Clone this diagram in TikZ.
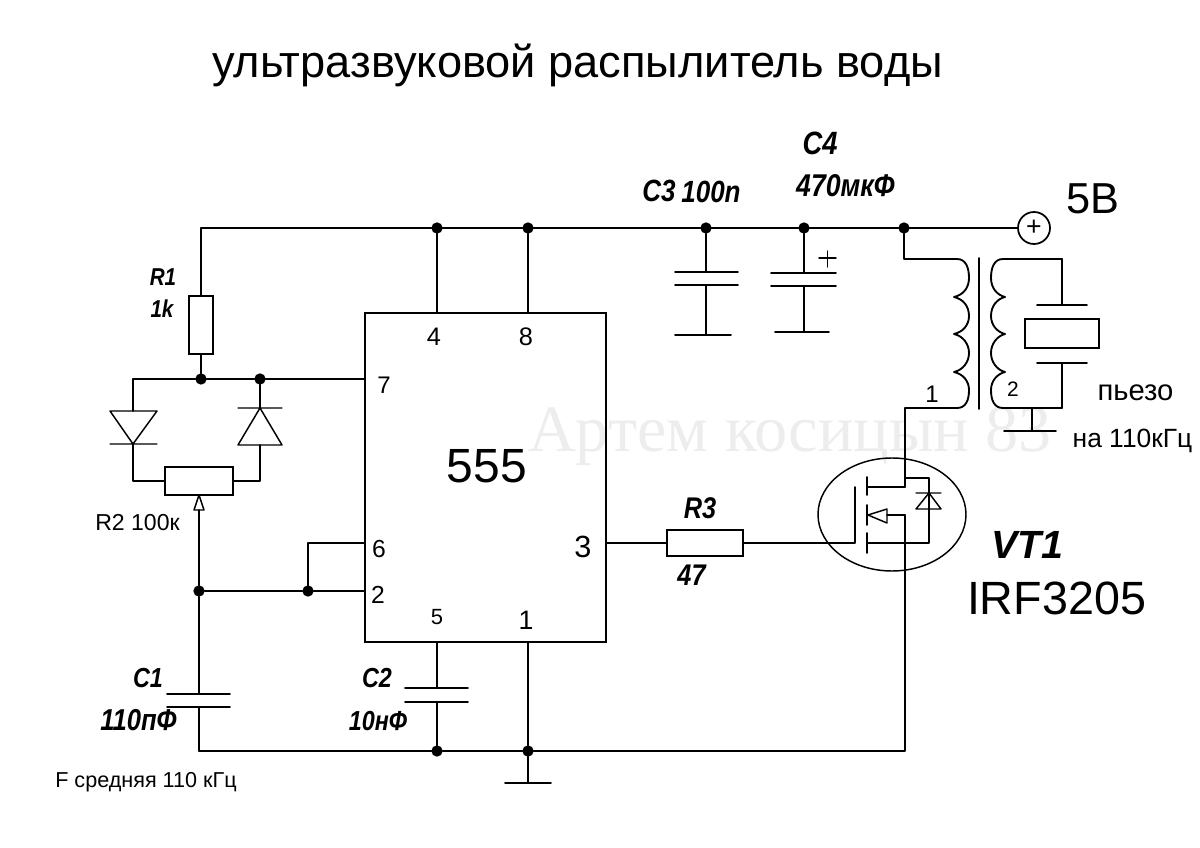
\documentclass[tikz,border=0pt]{standalone}
\usepackage{fontspec}
\setmainfont{Liberation Sans}
\newfontfamily\wmfont{Liberation Serif}
\newcommand{\tallt}[1]{\scalebox{1}[1.18]{#1}}
\tikzset{
  wire/.style={draw=black,line width=1.4pt,line cap=round,line join=round},
  thin wire/.style={draw=black,line width=1.1pt,line cap=round,line join=round},
  box/.style={draw=black,line width=1.5pt,rectangle,inner sep=0pt,outer sep=0pt},
  dot/.style={circle,fill=black,draw=none,minimum size=8.5pt,inner sep=0pt,outer sep=0pt},
  lab/.style={inner sep=0pt,outer sep=0pt,text=black,font=\fontsize{#1}{#1}\selectfont},
  blab/.style={inner sep=0pt,outer sep=0pt,text=black,font=\fontsize{#1}{#1}\selectfont\bfseries\itshape},
}
\begin{document}
\begin{tikzpicture}[x=0.75pt,y=-0.75pt]
\useasboundingbox (0,0) rectangle (1200,848);
\node[inner sep=0pt,text=black!7,font=\fontsize{49.7}{50}\selectfont\wmfont] (wm) at (790,437) {Артем косицын 83};
\node[lab=33.9] (title) at (577.5,65) {ультразвуковой распылитель воды};
% main parts
\node[box,minimum width=180.75pt,minimum height=246.75pt] (ic) at (485.5,477.5) {};
\node[box,minimum width=18pt,minimum height=43.5pt] (r1) at (201,325) {};
\node[box,minimum width=51pt,minimum height=21pt] (r2) at (199,481) {};
\node[box,minimum width=57pt,minimum height=19.5pt] (r3) at (705,543) {};
\node[box,minimum width=55.5pt,minimum height=21.75pt] (piezo) at (1062,333.5) {};
\node[box,circle,minimum size=24pt,line width=1.3pt,font=\fontsize{20}{20}\selectfont] (plus) at (1034,228) {+};
% junctions
\node[dot] (j437) at (437,228) {};
\node[dot] (j528) at (528,228) {};
\node[dot] (j706) at (706,228) {};
\node[dot] (j804) at (804,228) {};
\node[dot] (j904) at (904,228) {};
\node[dot] (j201) at (201,379) {};
\node[dot] (j260) at (260,379) {};
\node[dot] (j199) at (199,591) {};
\node[dot] (j308) at (308,591) {};
\node[dot] (b437) at (437,751) {};
\node[dot] (b528) at (528,751) {};
% coordinates
\coordinate (railL) at (201,228);
\coordinate (p4) at (437,313);
\coordinate (p8) at (528,313);
\coordinate (p7) at (365,379);
\coordinate (lft) at (133,379);
\coordinate (p6) at (365,543);
\coordinate (p2) at (365,591);
\coordinate (p5) at (437,642);
\coordinate (p1) at (528,642);
\coordinate (p3) at (606,543);
\coordinate (c3t) at (706,272);
\coordinate (c3b) at (706,285);
\coordinate (c3g) at (706,335);
\coordinate (c4t) at (804,273);
\coordinate (c4b) at (804,286);
\coordinate (c4g) at (804,332);
\coordinate (c1t) at (199,694);
\coordinate (c1b) at (199,707);
\coordinate (c2t) at (437,688);
\coordinate (c2b) at (437,702);
\coordinate (botL) at (199,751);
\coordinate (botR) at (905,751);
\coordinate (gnd) at (528,783);
\coordinate (gate) at (855,543);
\coordinate (drain) at (905,487);
\coordinate (tr1t) at (904,259);
\coordinate (tr1b) at (905,408);
\coordinate (tr2t) at (1062,259);
\coordinate (tr2b) at (1062,408);
\coordinate (gnd2t) at (1032,408);
\coordinate (gnd2) at (1032,431);
\coordinate (pzt) at (1062,305);
\coordinate (pzb) at (1062,363);
\coordinate (srct) at (905,515);
% rail
\draw[wire] (r1.north) -- (railL) -- (j437) -- (j528) -- (j706) -- (j804) -- (j904) -- (plus.west);
\draw[wire] (j437) -- (p4);
\draw[wire] (j528) -- (p8);
\draw[wire] (j706) -- (c3t);
\draw[wire] (c3b) -- (c3g);
\draw[wire] (j804) -- (c4t);
\draw[wire] (c4b) -- (c4g);
% capacitor plates
\draw[wire] (675,272) -- (738,272) (675,285) -- (738,285) (675,335) -- (731,335);
\draw[wire] (771,273) -- (836,273) (771,286) -- (836,286) (775,332) -- (829,332);
\draw[thin wire] (819,258) -- (836,258) (827.5,251) -- (827.5,267);
% R1 and bridge
\draw[wire] (r1.south) -- (j201);
\draw[wire] (lft) -- (j201) -- (j260) -- (p7);
\draw[wire] (lft) -- (133,411) (133,444) -- (133,481) -- (r2.west);
\draw[wire] (j260) -- (260,408) (260,445) -- (260,481) -- (r2.east);
\draw[thin wire] (110,411) -- (157,411) -- (133,444) -- cycle (110,444) -- (157,444);
\draw[thin wire] (238,408) -- (282,408) (260,408) -- (238,445) -- (282,445) -- cycle;
% wiper
\draw[wire] (j199) -- (199,510);
\draw[thin wire] (199,495) -- (194,510) -- (204,510) -- cycle;
\draw[wire] (j199) -- (c1t);
\draw[wire] (c1b) -- (botL);
\draw[wire] (167,694) -- (230,694) (167,707) -- (230,707);
\draw[wire] (j199) -- (j308) -- (p2);
\draw[wire] (j308) -- (308,543) -- (p6);
% bottom
\draw[wire] (p5) -- (c2t);
\draw[wire] (c2b) -- (b437);
\draw[wire] (405,688) -- (468,688) (405,702) -- (468,702);
\draw[wire] (p1) -- (b528) -- (gnd);
\draw[wire] (505,783) -- (551,783);
\draw[wire] (botL) -- (b437) -- (b528) -- (botR) -- (srct);
% output and MOSFET
\draw[wire] (p3) -- (r3.west);
\draw[wire] (r3.east) -- (gate) -- (855,487);
\draw[thin wire] (892,514.5) ellipse [x radius=74,y radius=56.5];
\draw[wire] (867,477) -- (867,495) (867,505) -- (867,525) (867,533) -- (867,553);
\draw[wire] (867,487) -- (drain);
\draw[wire] (tr1b) -- (drain);
\draw[thin wire] (905,478) -- (929,478) -- (929,543) -- (867,543);
\draw[wire] (srct) -- (887,515);
\draw[thin wire] (868,515) -- (887,509) -- (887,523) -- cycle;
\draw[thin wire] (916,493) -- (941,493) (929,493) -- (916,509) -- (941,509) -- cycle;
% transformer
\draw[wire] (j904) -- (tr1t) -- (957,259)
  .. controls (966,259) and (969,268) .. (969,278) .. controls (969,288) and (963,295) .. (954,297)
  .. controls (963,299) and (969,306) .. (969,316) .. controls (969,325) and (963,332) .. (954,334)
  .. controls (963,336) and (969,344) .. (969,353) .. controls (969,362) and (963,370) .. (954,372)
  .. controls (963,374) and (969,381) .. (969,390) .. controls (969,400) and (966,408) .. (957,408)
  -- (tr1b);
\draw[wire] (979,258) -- (979,409);
\draw[wire] (tr2t) -- (1003,259)
  .. controls (994,259) and (991,268) .. (991,278) .. controls (991,288) and (997,295) .. (1005,297)
  .. controls (997,299) and (991,306) .. (991,316) .. controls (991,325) and (997,332) .. (1005,334)
  .. controls (997,336) and (991,344) .. (991,353) .. controls (991,362) and (997,370) .. (1005,372)
  .. controls (997,374) and (991,381) .. (991,390) .. controls (991,400) and (994,408) .. (1003,408)
  -- (tr2b);
\draw[wire] (tr2t) -- (pzt);
\draw[wire] (pzb) -- (tr2b);
\draw[wire] (1037,305) -- (1087,305) (1037,363) -- (1087,363);
\draw[wire] (gnd2t) -- (gnd2);
\draw[wire] (1004,431) -- (1056,431);
% labels
\node[blab=19.5] (lc3) at (659,191) {\tallt{C3}};
\node[blab=19.5] (l100n) at (711,192) {\tallt{100n}};
\node[blab=20.5] (lc4) at (820,143) {\tallt{C4}};
\node[blab=20] (l470) at (845.5,186) {\tallt{470мкФ}};
\node[lab=32.5] (l5v) at (1093,199) {5В};
\node[blab=15.5] (lr1) at (163,277) {\tallt{R1}};
\node[blab=15.5] (l1k) at (162,309) {\tallt{1k}};
\node[lab=36] (l555) at (487,466) {555};
\node[lab=19] (n4) at (434,337) {4};
\node[lab=19] (n8) at (526,337) {8};
\node[lab=18] (n7) at (384,385) {7};
\node[lab=18.5] (n6) at (379,549) {6};
\node[lab=18.5] (n2) at (378,595) {2};
\node[lab=16.5] (n5) at (437,617) {5};
\node[lab=20] (n1) at (526,620) {1};
\node[lab=23] (n3) at (583,547) {3};
\node[blab=19] (lr3) at (700,508) {\tallt{R3}};
\node[blab=19] (l47) at (691.5,575) {\tallt{47}};
\node[blab=29.5] (lvt) at (1027.5,545) {VT1};
\node[lab=35] (lirf) at (1056.5,598) {IRF3205};
\node[blab=17.5] (lc1) at (148,678) {\tallt{C1}};
\node[blab=19.2] (l110) at (138.5,720) {\tallt{110пФ}};
\node[blab=17.5] (lc2) at (377,678) {\tallt{C2}};
\node[blab=17.5] (l10) at (378,721) {\tallt{10нФ}};
\node[lab=17.3] (lr2) at (137.5,523) {R2 100к};
\node[lab=16.2] (lf) at (146,782) {F средняя 110 кГц};
\node[lab=21.9] (lpz) at (1135.5,393) {пьезо};
\node[lab=19.8] (lna) at (1132.5,441) {на 110кГц};
\node[lab=18] (t1) at (932,394) {1};
\node[lab=15.7] (t2) at (1013,389) {2};
\end{tikzpicture}
\end{document}
